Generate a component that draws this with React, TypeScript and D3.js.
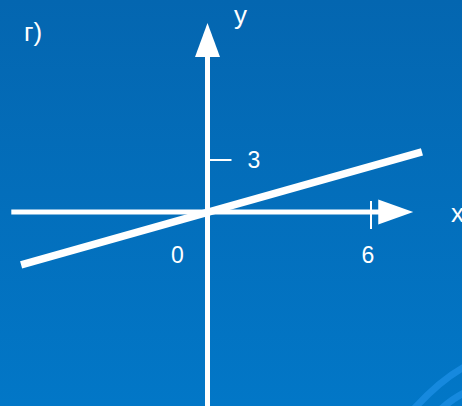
import React from "react";
import * as d3 from "d3";

const W = 462;
const H = 406;

// tick values on each axis
const xTicks = [6];
const yTicks = [3];
const originLabel = ["0"];

// the plotted straight line (data units)
const lineX = [-6.84, 7.87];
const lineY = [-3.05, 3.47];

// axis extents (data units)
const xAxisExtent = [-7.2, 7.55];
const yAxisExtent = [-11.3, 10.9];

const panelLabel = "г)";
const xName = "x";
const yName = "y";

export default function App() {
  const x = d3.scaleLinear().domain([0, 6]).range([207.5, 371]);
  const y = d3.scaleLinear().domain([0, 3]).range([212, 160]);

  const linePts: [number, number][] = lineX.map((v, i) => [v, lineY[i]]);
  const lineGen = d3
    .line<[number, number]>()
    .x((d) => x(d[0]))
    .y((d) => y(d[1]));

  const x0 = x(0);
  const y0 = y(0);
  const xTip = x(xAxisExtent[1]);
  const yTip = y(yAxisExtent[1]);
  const font = "'Liberation Sans', Arial, sans-serif";

  return (
    <svg
      width={W}
      height={H}
      style={{ position: "fixed", left: 0, top: 0, display: "block" }}
    >
      <defs>
        <linearGradient id="bg" x1="0" y1="0" x2="0" y2="1">
          <stop offset="0" stopColor="#0466b0" />
          <stop offset="1" stopColor="#0277c7" />
        </linearGradient>
      </defs>
      <rect x={0} y={0} width={W} height={H} fill="url(#bg)" />
      {/* decorative arcs bottom-right */}
      <path
        d="M 413 410 Q 440 380 466 366"
        fill="none"
        stroke="#1689de"
        strokeWidth={7}
      />
      <path
        d="M 440 410 Q 452 399 466 392"
        fill="none"
        stroke="#1689de"
        strokeWidth={7}
      />

      {/* x axis */}
      <line
        x1={x(xAxisExtent[0])}
        x2={xTip - 34}
        y1={y0}
        y2={y0}
        stroke="#fff"
        strokeWidth={5}
      />
      <path
        d={`M ${xTip - 35} ${y0 - 12.5} L ${xTip} ${y0} L ${xTip - 35} ${y0 + 12.5} Z`}
        fill="#fff"
      />
      {/* y axis */}
      <line
        x1={x0}
        x2={x0}
        y1={y(yAxisExtent[0])}
        y2={yTip + 33}
        stroke="#fff"
        strokeWidth={5}
      />
      <path
        d={`M ${x0 - 12.5} ${yTip + 34} L ${x0} ${yTip} L ${x0 + 12.5} ${yTip + 34} Z`}
        fill="#fff"
      />

      {/* ticks */}
      {xTicks.map((t) => (
        <g key={"xt" + t}>
          <line
            x1={x(t)}
            x2={x(t)}
            y1={y0 - 11}
            y2={y0 + 17}
            stroke="#fff"
            strokeWidth={2}
          />
          <text
            x={x(t) - 3}
            y={y0 + 51}
            fill="#fff"
            fontSize={23}
            fontFamily={font}
            textAnchor="middle"
          >
            {t}
          </text>
        </g>
      ))}
      {yTicks.map((t) => (
        <g key={"yt" + t}>
          <line
            x1={x0}
            x2={x0 + 24}
            y1={y(t)}
            y2={y(t)}
            stroke="#fff"
            strokeWidth={2}
          />
          <text
            x={x0 + 40}
            y={y(t) + 8}
            fill="#fff"
            fontSize={23}
            fontFamily={font}
          >
            {t}
          </text>
        </g>
      ))}
      <text
        x={x0 - 30}
        y={y0 + 51}
        fill="#fff"
        fontSize={23}
        fontFamily={font}
        textAnchor="middle"
      >
        {originLabel[0]}
      </text>

      {/* function line */}
      <path
        d={lineGen(linePts) || ""}
        fill="none"
        stroke="#fff"
        strokeWidth={7.5}
      />

      {/* names */}
      <text x={234} y={24} fill="#fff" fontSize={26} fontFamily={font}>
        {yName}
      </text>
      <text x={451} y={222} fill="#fff" fontSize={26} fontFamily={font}>
        {xName}
      </text>
      <text x={24} y={41} fill="#fff" fontSize={26} fontFamily={font}>
        {panelLabel}
      </text>
    </svg>
  );
}
